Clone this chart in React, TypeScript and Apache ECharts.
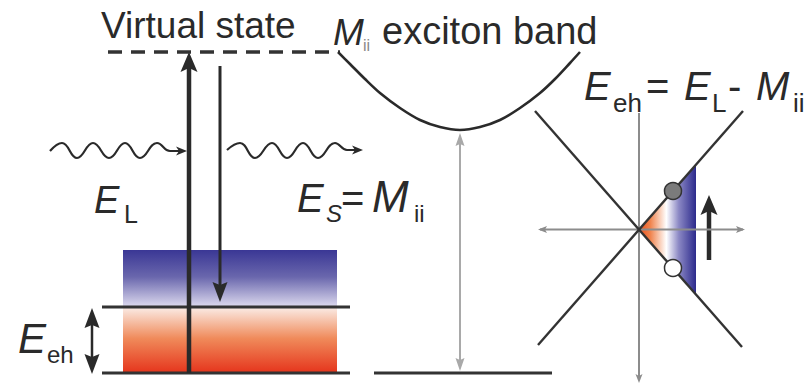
import React, { useEffect, useRef } from 'react';
import * as echarts from 'echarts';

// ---- diagram geometry (diagram units; 1 unit = 1 px, y grows downward) ----
const virtualLevel: number[][] = [[108, 52], [340, 52]];
const excitonBand: number[][] = [
  [338, 52], [350, 64], [365, 79], [380, 93], [400, 108], [420, 120], [440, 127], [460, 130],
  [480, 127], [500, 120], [520, 108], [540, 93], [555, 79], [570, 63], [580, 52],
];
const groundLevelLeft: number[][] = [[102, 373], [350, 373]];
const excitedLevel: number[][] = [[102, 307], [350, 307]];
const groundLevelRight: number[][] = [[374, 373], [552, 373]];

const incidentWave: number[][] = [
  [50, 151], [62, 143], [77, 158], [93, 143], [109, 158], [125, 143], [140, 158], [157, 143], [170, 151], [180, 151],
];
const scatteredWave: number[][] = [
  [227, 150], [240, 143], [255, 158], [272, 143], [287, 158], [303, 143], [318, 158], [335, 143], [347, 150], [356, 150],
];

const laserShaft: number[][] = [[189, 373], [189, 64]];
const stokesShaft: number[][] = [[220, 66], [220, 290]];
const ehShaft: number[][] = [[92, 320], [92, 362]];
const transitionShaft: number[][] = [[460, 140], [460, 364]];
const fieldShaft: number[][] = [[709, 260], [709, 210]];

const kAxis: number[][] = [[540, 229.5], [743, 229.5]];
const eAxis: number[][] = [[639, 113], [639, 378]];
const coneDown: number[][] = [[535, 111], [742, 347]];
const coneUp: number[][] = [[538, 345], [743, 111]];

const bandBlock: number[][] = [[123, 250], [337, 373]];
const excitationWedge: number[][] = [[639, 229.5], [696, 164.6], [696, 294.5]];
const electron: number[][] = [[673, 191]];
const hole: number[][] = [[673, 268]];

// arrow heads: [tipX, tipY, towardX, towardY]
const heavyHeads: number[][] = [[189, 52, 189, 373], [709, 195, 709, 260]];
const mediumHeads: number[][] = [[220, 302, 220, 66], [92, 308, 92, 374], [92, 374, 92, 308]];
const waveHeads: number[][] = [[187, 151, 170, 151], [363, 150, 347, 150]];
const grayHeads: number[][] = [[460, 133, 460, 371], [460, 371, 460, 133]];
const axisHeads: number[][] = [[538, 229.5, 745, 229.5], [745, 229.5, 538, 229.5], [639, 383, 639, 113]];

const INK = '#2a2a2a';
const FONT = '"Liberation Sans", Arial, Helvetica, sans-serif';

function lineSeries(data: number[][], width: number, color = INK, extra: any = {}) {
  return {
    type: 'line', data, symbol: 'none', silent: true, z: 5,
    lineStyle: { width, color, cap: 'butt', ...(extra.lineStyle || {}) },
    smooth: extra.smooth || false,
  } as any;
}

function headSeries(data: number[][], len: number, w: number, notch: number, color: string, z = 8) {
  return {
    type: 'custom', silent: true, z,
    data,
    renderItem: (_p: any, api: any) => {
      const tip = api.coord([api.value(0), api.value(1)]);
      const tow = api.coord([api.value(2), api.value(3)]);
      const dx = tip[0] - tow[0], dy = tip[1] - tow[1];
      const d = Math.hypot(dx, dy) || 1;
      const ux = dx / d, uy = dy / d, px = -uy, py = ux;
      const bx = tip[0] - ux * len, by = tip[1] - uy * len;
      const nx = tip[0] - ux * (len - notch), ny = tip[1] - uy * (len - notch);
      return {
        type: 'polygon',
        shape: { points: [tip, [bx + px * w / 2, by + py * w / 2], [nx, ny], [bx - px * w / 2, by - py * w / 2]] },
        style: { fill: color },
      };
    },
  } as any;
}

function txt(text: string, x: number, baseline: number, size: number, italic = false, fill = INK) {
  return {
    type: 'text', x, y: baseline - 0.3465 * size, z: 100,
    style: { text, fontSize: size, fontFamily: FONT, fontStyle: italic ? 'italic' : 'normal', fill, align: 'left', verticalAlign: 'middle' },
  };
}

export default function App() {
  const ref = useRef<HTMLDivElement>(null);
  useEffect(() => {
    if (!ref.current) return;
    const chart = echarts.init(ref.current, undefined, { renderer: 'svg' });
    const option: any = {
      animation: false,
      backgroundColor: '#ffffff',
      grid: { left: 0, right: 0, top: 0, bottom: 0 },
      xAxis: { type: 'value', min: 0, max: 812, show: false },
      yAxis: { type: 'value', min: 0, max: 384, inverse: true, show: false },
      series: [
        {
          type: 'custom', silent: true, z: 1, data: [bandBlock[0].concat(bandBlock[1])],
          renderItem: (_p: any, api: any) => {
            const a = api.coord([api.value(0), api.value(1)]);
            const b = api.coord([api.value(2), api.value(3)]);
            return {
              type: 'rect',
              shape: { x: a[0], y: a[1], width: b[0] - a[0], height: b[1] - a[1] },
              style: {
                fill: new echarts.graphic.LinearGradient(0, 0, 0, 1, [
                  { offset: 0, color: '#3a3795' },
                  { offset: 0.22, color: '#6a67ad' },
                  { offset: 0.46, color: '#dcd9ee' },
                  { offset: 0.47, color: '#faeae3' },
                  { offset: 0.72, color: '#f08a5a' },
                  { offset: 1, color: '#e5341c' },
                ]),
              },
            };
          },
        },
        {
          type: 'custom', silent: true, z: 1, data: [excitationWedge.flat()],
          renderItem: (_p: any, api: any) => {
            const pts = [0, 1, 2].map((i) => api.coord([api.value(2 * i), api.value(2 * i + 1)]));
            return {
              type: 'polygon', shape: { points: pts },
              style: {
                fill: new echarts.graphic.LinearGradient(0, 0, 1, 0, [
                  { offset: 0, color: '#e8501c' },
                  { offset: 0.2, color: '#f0844e' },
                  { offset: 0.48, color: '#ffffff' },
                  { offset: 0.7, color: '#8a87c4' },
                  { offset: 1, color: '#2c2a8c' },
                ]),
              },
            };
          },
        },
        lineSeries(virtualLevel, 3.5, '#333333', { lineStyle: { type: [14, 9] } }),
        lineSeries(excitonBand, 2.6, INK, { smooth: 0.3 }),
        lineSeries(groundLevelLeft, 3, '#333333'),
        lineSeries(excitedLevel, 3, '#333333'),
        lineSeries(groundLevelRight, 3, '#333333'),
        lineSeries(incidentWave, 2.2, INK, { smooth: 0.45 }),
        lineSeries(scatteredWave, 2.2, INK, { smooth: 0.45 }),
        lineSeries(laserShaft, 4.5),
        lineSeries(stokesShaft, 3),
        lineSeries(ehShaft, 2.5),
        lineSeries(transitionShaft, 2, '#a9a9a9'),
        lineSeries(fieldShaft, 4.5),
        lineSeries(kAxis, 2, '#8c8c8c'),
        lineSeries(eAxis, 2, '#8c8c8c'),
        lineSeries(coneDown, 2.4, '#333333'),
        lineSeries(coneUp, 2.4, '#333333'),
        headSeries(heavyHeads, 20, 17, 4, INK),
        headSeries(mediumHeads, 20, 15, 3, INK),
        headSeries(waveHeads, 11, 9, 3, INK),
        headSeries(grayHeads, 13, 9, 2, '#a9a9a9'),
        headSeries(axisHeads, 9, 7, 2, '#8c8c8c'),
        {
          type: 'scatter', silent: true, z: 10, data: electron, symbol: 'circle', symbolSize: 17,
          itemStyle: { color: '#7b7b7b', borderColor: '#333333', borderWidth: 1.5, opacity: 1 },
        },
        {
          type: 'scatter', silent: true, z: 10, data: hole, symbol: 'circle', symbolSize: 17,
          itemStyle: { color: '#ffffff', borderColor: '#333333', borderWidth: 1.5, opacity: 1 },
        },
      ],
      graphic: [
        txt('Virtual state', 101, 38, 37),
        txt('M', 333, 45, 37, true),
        txt('ii', 363, 51, 16, false, '#8a8a8a'),
        txt('exciton band', 382, 44, 38),
        txt('E', 584, 100, 40, true),
        txt('eh', 613, 112, 26),
        txt('=', 646, 100, 40),
        txt('E', 684, 100, 40, true),
        txt('L', 712, 112, 26),
        txt('-', 728, 100, 40),
        txt('M', 756, 100, 40, true),
        txt('ii', 793, 112, 26),
        txt('E', 94, 213, 38, true),
        txt('L', 124, 223, 25),
        txt('E', 297, 212, 40, true),
        txt('S', 326, 222, 24, true),
        txt('=', 341, 212, 40),
        txt('M', 372, 212, 44, true),
        txt('ii', 414, 222, 24),
        txt('E', 18, 353, 42, true),
        txt('eh', 47, 363, 24),
      ],
    };
    chart.setOption(option);
    return () => chart.dispose();
  }, []);
  return (
    <div
      ref={ref}
      style={{ position: 'absolute', left: 0, top: 0, width: 812, height: 384, background: '#fff' }}
    />
  );
}
